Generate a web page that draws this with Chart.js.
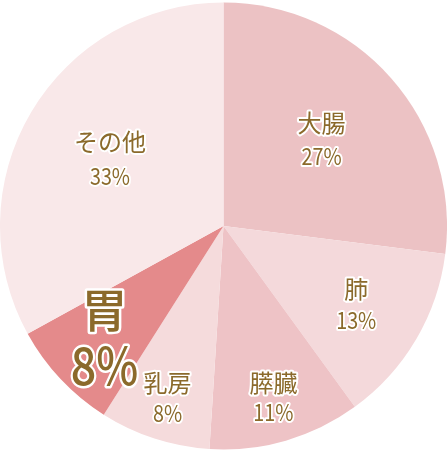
<!DOCTYPE html>
<html><head><meta charset="utf-8">
<script src="https://cdn.jsdelivr.net/npm/chart.js@4/dist/chart.umd.min.js"></script>
<style>html,body{margin:0;padding:0;background:#fff}#wrap{width:447px;height:452px}</style>
</head><body><div id="wrap"><canvas id="c"></canvas></div>
<script>
const categories = ["大腸","肺","膵臓","乳房","胃","その他"];
const values = [27,13,11,8,8,33];
const colors = ["#ecc2c4","#f4d9db","#eec3c6","#f5dbdc","#e48a8b","#f9e8e9"];
// label layout (radius fraction, name size, pct size, gap)
const labelRadius = [0.585,0.69,0.80,0.81,0.73,0.59];
const nameSize = [24,24,24,24,46,24];
const pctSize = [23,23,23,23,52,23];
const gap = [17,16,15,15,28,17];

const labelPlugin = {
  id:'labels',
  afterDatasetsDraw(chart){
    const ctx = chart.ctx;
    const meta = chart.getDatasetMeta(0);
    meta.data.forEach((arc,i)=>{
      const p = arc.getProps(['x','y','startAngle','endAngle','outerRadius'],true);
      const mid = (p.startAngle+p.endAngle)/2;
      const r = p.outerRadius*labelRadius[i];
      const cx = p.x + Math.cos(mid)*r;
      const cy = p.y + Math.sin(mid)*r;
      const lines=[[categories[i],nameSize[i],cy-gap[i],1],[values[i]+'%',pctSize[i],cy+gap[i],0.86]];
      lines.forEach(([t,s,yy,sx])=>{
        ctx.save();
        ctx.translate(cx,yy);ctx.scale(sx,1);
        ctx.textAlign='center';ctx.textBaseline='middle';
        ctx.lineJoin='round';
        ctx.font=(s>30?'500 ':'400 ')+s+'px "Noto Sans CJK JP"';
        ctx.strokeStyle='#ffffff';ctx.lineWidth= s>30?5:4;
        ctx.strokeText(t,0,0);
        ctx.fillStyle='#8b6a2b';
        ctx.fillText(t,0,0);
        ctx.restore();
      });
    });
  }
};

new Chart(document.getElementById('c'),{
  type:'pie',
  data:{labels:categories,datasets:[{data:values,backgroundColor:colors,borderWidth:0}]},
  options:{responsive:true,maintainAspectRatio:false,animation:false,
    layout:{padding:0},
    plugins:{legend:{display:false},tooltip:{enabled:false}}},
  plugins:[labelPlugin]
});
</script></body></html>
